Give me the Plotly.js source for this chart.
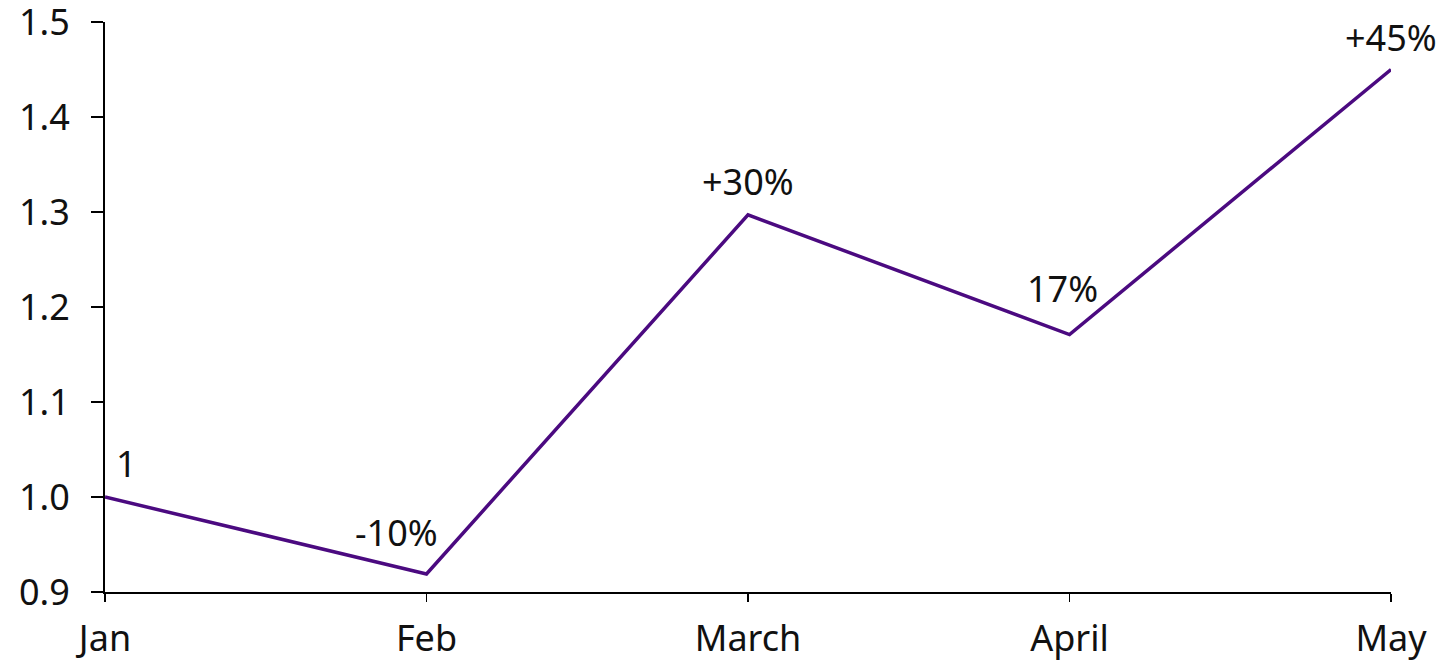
<!DOCTYPE html>
<html>
<head>
<meta charset="utf-8">
<script src="https://cdn.plot.ly/plotly-3.0.1.min.js"></script>
<style>html,body{margin:0;padding:0;background:#fff;}#chart{width:1440px;height:661px;}</style>
</head>
<body>
<div id="chart"></div>
<script>
const months = ["Jan", "Feb", "March", "April", "May"];
const values = [1.0, 0.919, 1.297, 1.171, 1.45];
const pointLabels = ["1", "-10%", "+30%", "17%", "+45%"];
const yTicks = [0.9, 1.0, 1.1, 1.2, 1.3, 1.4, 1.5];

const shifts = [[21, 34], [-30, 41], [0, 33], [-7, 46], [0, 32]];
const font = {family: "Noto Sans, sans-serif", size: 36, color: "#111"};

const annotations = months.map((m, i) => ({
  x: m, y: values[i], xref: "x", yref: "y", text: pointLabels[i],
  showarrow: false, xshift: shifts[i][0], yshift: shifts[i][1],
  font: font, xanchor: "center", yanchor: "middle"
}));

Plotly.newPlot("chart", [{
  x: months, y: values, type: "scatter", mode: "lines",
  line: {color: "#4b0a80", width: 3.5}, hoverinfo: "skip"
}], {
  width: 1440, height: 661,
  margin: {l: 105, r: 49, t: 22, b: 69},
  paper_bgcolor: "#fff", plot_bgcolor: "#fff",
  showlegend: false,
  font: font,
  xaxis: {
    type: "category", range: [0, 4], showgrid: false, zeroline: false,
    showline: true, linecolor: "#000", linewidth: 2,
    ticks: "outside", ticklen: 8, tickwidth: 1.5, tickcolor: "#000",
    ticklabelstandoff: 6, tickfont: font, fixedrange: true,
    ticklabeloverflow: "allow"
  },
  yaxis: {
    range: [0.9, 1.5], tickvals: yTicks, tickformat: ".1f",
    showgrid: false, zeroline: false,
    showline: true, linecolor: "#000", linewidth: 2,
    ticks: "outside", ticklen: 12, tickwidth: 1.5, tickcolor: "#000",
    ticklabelstandoff: 14, tickfont: font, fixedrange: true,
    ticklabeloverflow: "allow"
  },
  annotations: annotations
}, {displayModeBar: false, staticPlot: true});
</script>
</body>
</html>
